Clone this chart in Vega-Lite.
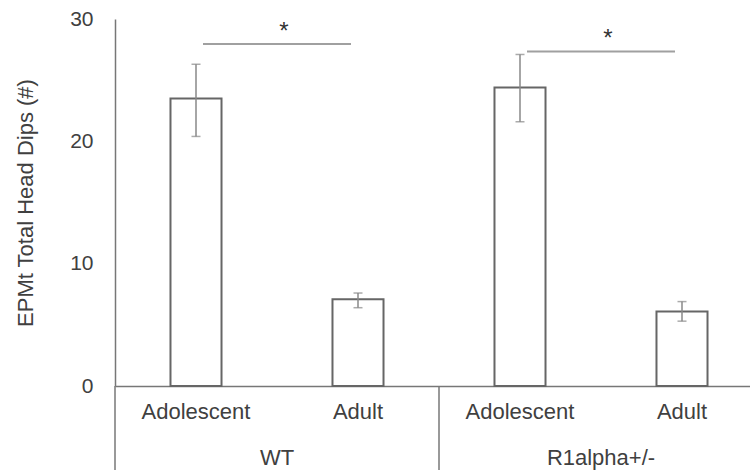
{
  "$schema": "https://vega.github.io/schema/vega-lite/v6.json",
  "width": 635,
  "height": 367,
  "autosize": {"type": "none"},
  "padding": {"left": 115, "top": 19, "right": 0, "bottom": 84},
  "background": "white",
  "config": {"view": {"stroke": null}, "font": "Liberation Sans"},
  "datasets": {
    "bars": [
      {"genotype": "WT", "age": "Adolescent", "mean": 23.5, "lo": 20.4, "hi": 26.3},
      {"genotype": "WT", "age": "Adult", "mean": 7.1, "lo": 6.4, "hi": 7.6},
      {"genotype": "R1alpha+/-", "age": "Adolescent", "mean": 24.4, "lo": 21.6, "hi": 27.1},
      {"genotype": "R1alpha+/-", "age": "Adult", "mean": 6.1, "lo": 5.3, "hi": 6.9}
    ],
    "sig": [
      {"genotype": "WT", "level": 27.95, "label": "*"},
      {"genotype": "R1alpha+/-", "level": 27.35, "label": "*"}
    ]
  },
  "encoding": {
    "x": {
      "field": "genotype",
      "type": "nominal",
      "sort": ["WT", "R1alpha+/-"],
      "scale": {"range": [0, 648], "paddingInner": 0, "paddingOuter": 0},
      "axis": {
        "title": null,
        "domainColor": "#777777",
        "domainWidth": 1.5,
        "ticks": false,
        "tickSize": 0,
        "labelFontSize": 22,
        "labelColor": "#404040",
        "labelPadding": 71,
        "labelBaseline": "middle",
        "labelAngle": 0
      }
    }
  },
  "layer": [
    {
      "data": {"name": "bars"},
      "mark": {"type": "bar", "fill": "white", "stroke": "#666666", "strokeWidth": 2},
      "encoding": {
        "xOffset": {"field": "age", "type": "nominal", "sort": ["Adolescent", "Adult"], "scale": {"paddingInner": 0.685, "paddingOuter": 0.3425}},
        "y": {
          "field": "mean",
          "type": "quantitative",
          "scale": {"domain": [0, 30], "nice": false},
          "axis": {
            "title": "EPMt Total Head Dips (#)",
            "values": [0, 10, 20, 30],
            "ticks": false,
            "tickSize": 0,
            "grid": false,
            "labelPadding": 22,
            "labelFontSize": 21,
            "labelColor": "#404040",
            "labelFlush": false,
            "domainColor": "#777777",
            "domainWidth": 1.5,
            "titleFontSize": 22,
            "titleFontWeight": "normal",
            "titleColor": "#404040",
            "titlePadding": 32
          }
        }
      }
    },
    {
      "data": {"name": "bars"},
      "mark": {"type": "rule", "color": "#888888", "strokeWidth": 1.5},
      "encoding": {
        "xOffset": {"field": "age", "type": "nominal", "sort": ["Adolescent", "Adult"]},
        "y": {"field": "lo", "type": "quantitative"},
        "y2": {"field": "hi"}
      }
    },
    {
      "data": {"name": "bars"},
      "mark": {"type": "tick", "orient": "horizontal", "color": "#888888", "size": 9, "thickness": 1.5},
      "encoding": {
        "xOffset": {"field": "age", "type": "nominal", "sort": ["Adolescent", "Adult"]},
        "y": {"field": "hi", "type": "quantitative"}
      }
    },
    {
      "data": {"name": "bars"},
      "mark": {"type": "tick", "orient": "horizontal", "color": "#888888", "size": 9, "thickness": 1.5},
      "encoding": {
        "xOffset": {"field": "age", "type": "nominal", "sort": ["Adolescent", "Adult"]},
        "y": {"field": "lo", "type": "quantitative"}
      }
    },
    {
      "data": {"name": "bars"},
      "mark": {"type": "text", "fontSize": 22, "color": "#404040", "baseline": "middle", "align": "center"},
      "encoding": {
        "xOffset": {"field": "age", "type": "nominal", "sort": ["Adolescent", "Adult"]},
        "y": {"datum": -2.1, "type": "quantitative"},
        "text": {"field": "age"}
      }
    },
    {
      "data": {"name": "sig"},
      "mark": {"type": "tick", "orient": "horizontal", "size": 148, "thickness": 2, "color": "#777777"},
      "encoding": {
        "y": {"field": "level", "type": "quantitative"}
      }
    },
    {
      "data": {"name": "sig"},
      "mark": {"type": "text", "fontSize": 24, "color": "#333333", "baseline": "alphabetic", "align": "center", "dx": 7, "dy": -5},
      "encoding": {
        "y": {"field": "level", "type": "quantitative"},
        "text": {"field": "label"}
      }
    },
    {
      "data": {"name": "sig"},
      "mark": {"type": "rule", "color": "#777777", "strokeWidth": 1.5},
      "encoding": {
        "x": {"field": "genotype", "type": "nominal", "sort": ["WT", "R1alpha+/-"], "bandPosition": 0},
        "y": {"datum": 0, "type": "quantitative"},
        "y2": {"datum": -7}
      }
    }
  ]
}
